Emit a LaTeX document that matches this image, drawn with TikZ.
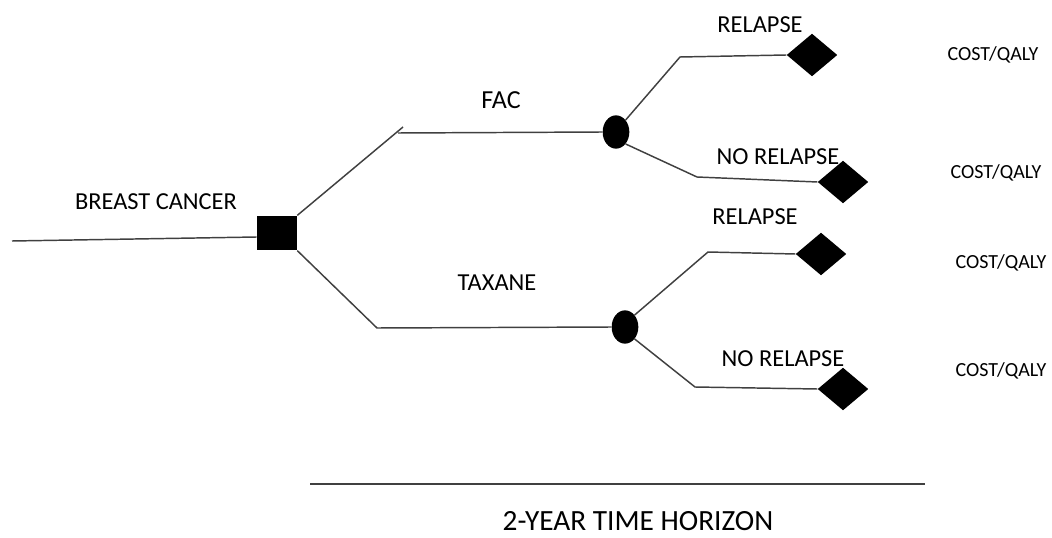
\documentclass[tikz,border=0pt]{standalone}
\usepackage{fontspec}
\setmainfont{Carlito}
\usetikzlibrary{shapes.geometric}
\begin{document}
\begin{tikzpicture}[x=0.75pt,y=-0.75pt]
\tikzstyle{decision} = [rectangle,fill=black,minimum width=30pt,minimum height=26pt,inner sep=0];
\tikzstyle{chance} = [ellipse,fill=black,minimum width=20pt,minimum height=25pt,inner sep=0];
\tikzstyle{terminal} = [diamond,fill=black,minimum width=38pt,minimum height=32pt,inner sep=0];
\tikzstyle{lbl} = [font=\fontsize{18.3}{20}\selectfont,inner sep=0];
\tikzstyle{cost} = [font=\fontsize{15}{17}\selectfont,inner sep=0];
\tikzstyle{branch} = [line width=1.1pt,color=black!75];
\useasboundingbox (0,0) rectangle (1052,538);
\node [decision] (dec) at (277,233) {};
\node [chance] (chA) at (616,132) {};
\node [chance] (chB) at (625,327) {};
\node [terminal] (tA1) at (812,55) {};
\node [terminal] (tA2) at (843,182) {};
\node [terminal] (tB1) at (821,254) {};
\node [terminal] (tB2) at (843,389) {};

\coordinate (start) at (12,241);
\coordinate (kA) at (403,127);
\coordinate (hA) at (398,133);
\coordinate (kB) at (377,328);
\coordinate (eA1) at (680,57);
\coordinate (eA2) at (697,177);
\coordinate (eB1) at (708,252);
\coordinate (eB2) at (695,387);
\coordinate (hl) at (310,484);
\coordinate (hr) at (925,484);

\node [lbl] (bc) at (156,202) {BREAST CANCER};
\node [lbl,font=\fontsize{19.5}{21}\selectfont] (fac) at (501,100) {FAC};
\node [lbl] (tax) at (497,283) {TAXANE};
\node [lbl] (rA) at (760,25) {RELAPSE};
\node [lbl] (nA) at (778,157) {NO RELAPSE};
\node [lbl] (rB) at (755,217) {RELAPSE};
\node [lbl] (nB) at (783,359) {NO RELAPSE};
\node [cost] (cA1) at (993,55) {COST/QALY};
\node [cost] (cA2) at (996,173) {COST/QALY};
\node [cost] (cB1) at (1001,263) {COST/QALY};
\node [cost] (cB2) at (1001,371) {COST/QALY};
\node [lbl,font=\fontsize{22}{24}\selectfont] (hor) at (638,521) {2-YEAR TIME HORIZON};

\draw [branch] (start) -- ([yshift=-3pt]dec.west);
\draw [branch] (dec.north east) -- (kA);
\draw [branch] (hA) -- (chA.west);
\draw [branch] (dec.south east) -- (kB) -- (chB.west);
\draw [branch] (chA.north east) -- (eA1) -- (tA1.west);
\draw [branch] (chA.south east) -- (eA2) -- (tA2.west);
\draw [branch] (chB.north east) -- (eB1) -- (tB1.west);
\draw [branch] (chB.south east) -- (eB2) -- (tB2.west);
\draw [branch] (hl) -- (hr);
\end{tikzpicture}
\end{document}
